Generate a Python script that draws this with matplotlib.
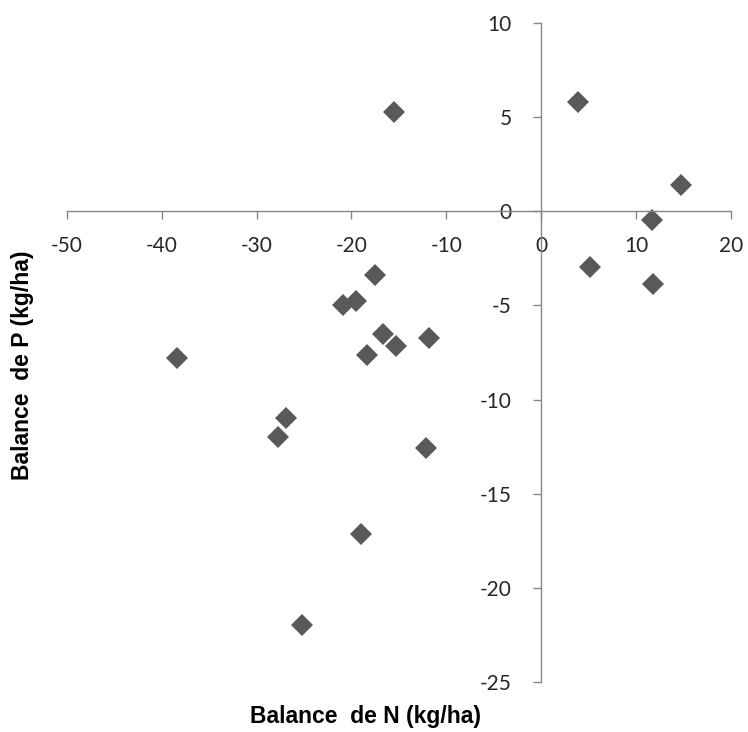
import matplotlib
matplotlib.use("Agg")
import matplotlib.pyplot as plt

# Balance de N / Balance de P (kg/ha)
balance_n = [-15.5, 3.9, 14.7, 11.7, 5.1, 11.8, -17.5, -20.9, -19.5, -16.7,
             -15.3, -18.4, -11.8, -38.4, -26.9, -27.8, -12.1, -19.0, -25.2]
balance_p = [5.3, 5.8, 1.4, -0.45, -2.95, -3.85, -3.4, -5.0, -4.75, -6.5,
             -7.15, -7.65, -6.75, -7.8, -11.0, -12.0, -12.6, -17.15, -22.0]

x_ticks = [-50, -40, -30, -20, -10, 0, 10, 20]
y_ticks = [-25, -20, -15, -10, -5, 0, 5, 10]

axis_grey = "#868686"
marker_grey = "#595959"

plt.rcParams["font.family"] = ["Lato", "DejaVu Sans"]
plt.rcParams["axes.unicode_minus"] = False

fig = plt.figure(figsize=(7.48, 7.32), dpi=100)
ax = fig.add_axes([0.0896, 0.0687, 0.8874, 0.8995])

ax.plot(balance_n, balance_p, linestyle="none", marker="D",
        markersize=11, color=marker_grey, markeredgewidth=0)

ax.set_xlim(-50, 20)
ax.set_ylim(-25, 10)
ax.set_xticks(x_ticks)
ax.set_yticks(y_ticks)

# axes cross at the origin, like the Excel original
ax.spines["left"].set_position(("data", 0))
ax.spines["bottom"].set_position(("data", 0))
ax.spines["top"].set_visible(False)
ax.spines["right"].set_visible(False)
for side in ("left", "bottom"):
    ax.spines[side].set_color(axis_grey)
    ax.spines[side].set_linewidth(1.0)

ax.tick_params(axis="both", direction="out", length=6, width=1.0,
               color=axis_grey, labelsize=15, labelcolor="#262626")
ax.tick_params(axis="x", pad=12)
ax.tick_params(axis="y", pad=15)
ax.patch.set_alpha(0)

fig.text(0.488, 0.021, "Balance  de N (kg/ha)", ha="center", va="center",
         fontsize=16.5, fontweight="bold", family="Liberation Sans")
fig.text(0.030, 0.501, "Balance  de P (kg/ha)", ha="center", va="center",
         rotation=90, fontsize=16.5, fontweight="bold", family="Liberation Sans")

fig.savefig("out.png", dpi=100)
plt.close(fig)
